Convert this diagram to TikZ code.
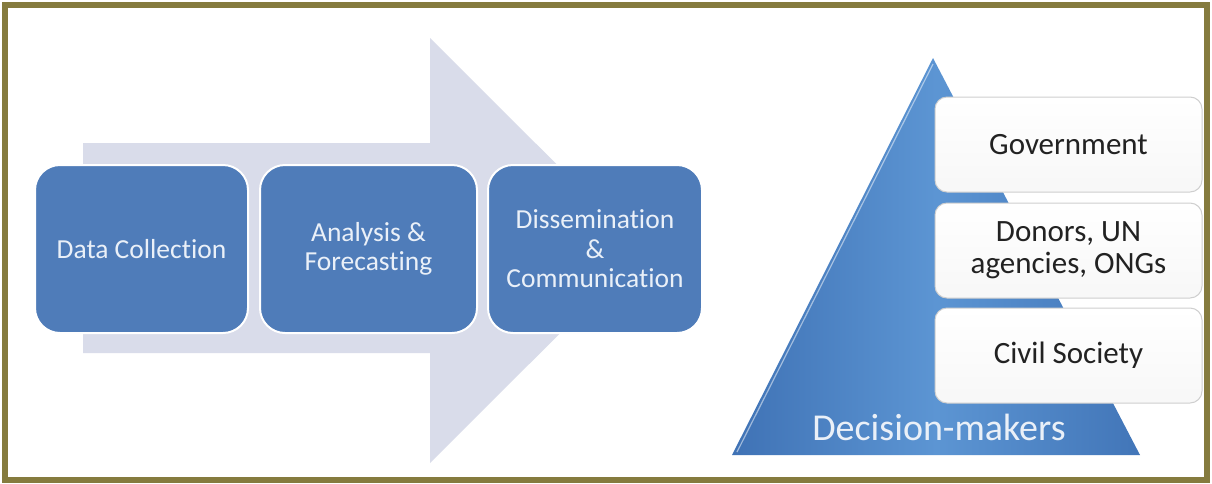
\documentclass[tikz,border=0pt]{standalone}
\usepackage{fontspec}
\setmainfont{Carlito}[Ligatures=CommonOff]
\definecolor{framec}{HTML}{857B3E}
\definecolor{arrowc}{HTML}{D9DCEA}
\definecolor{boxc}{HTML}{4F7CB9}
\definecolor{boxtext}{HTML}{EAF0F8}
\definecolor{tridark}{HTML}{3F72B5}
\definecolor{trilight}{HTML}{5C95D3}
\definecolor{wedge}{HTML}{CFCFCF}
\definecolor{darktext}{HTML}{222222}
\tikzset{
  bluebox/.style={draw=white, line width=2pt, fill=boxc, rounded corners=25pt,
    minimum height=168pt, text=boxtext, align=center, inner sep=0pt,
    font=\fontsize{27.5}{29.5}\selectfont},
  whitebox/.style={draw=wedge, line width=1pt, top color=white, bottom color=white!94!gray,
    rounded corners=12pt, minimum width=267pt, minimum height=95pt, text=darktext,
    align=center, inner sep=0pt, font=\fontsize{31}{32}\selectfont},
}
\begin{document}
\begin{tikzpicture}[x=1pt,y=-1pt]
\useasboundingbox (0,0) rectangle (1212,483);
\fill[white] (0,0) rectangle (1212,483);
\draw[line width=6pt, draw=framec] (5,4.5) rectangle (1207,480);
% big arrow
\fill[arrowc] (83,143) -- (430,143) -- (430,38) -- (643,250.5) -- (430,463) -- (430,353) -- (83,353) -- cycle;
% process boxes
\node[bluebox, minimum width=213pt] (dc) at (141.5,249) {Data Collection};
\node[bluebox, minimum width=217pt] (af) at (368.5,249) {Analysis \&\\Forecasting};
\node[bluebox, minimum width=214pt] (dcm) at (595,249) {Dissemination\\\&\\Communication};
% pyramid
\shade[left color=tridark, right color=tridark!90!trilight, middle color=trilight]
  (933,58) -- (1140,455) -- (732,455) -- cycle;
\draw[white, opacity=0.5, line width=1.2pt] (737,452) -- (933,64);
\node[whitebox] (gov) at (1068.5,144.5) {Government};
\node[whitebox] (don) at (1068.5,250.5) {Donors, UN\\agencies, ONGs};
\node[whitebox] (civ) at (1068.5,355.5) {Civil Society};
\node[text=boxtext, font=\fontsize{38}{40}\selectfont, inner sep=0pt] (dm) at (939,427) {Decision-makers};
\end{tikzpicture}
\end{document}
